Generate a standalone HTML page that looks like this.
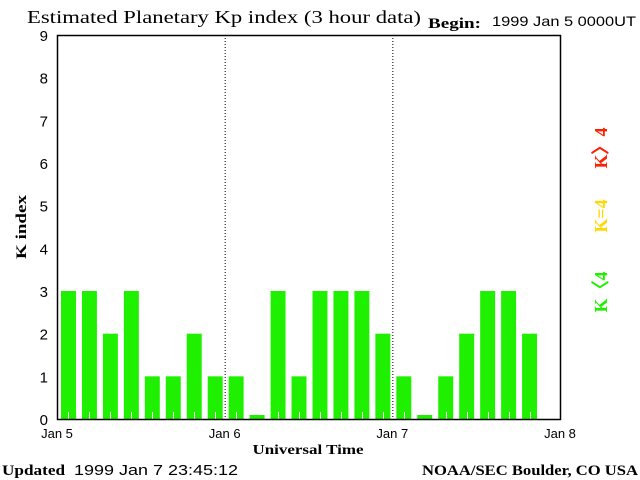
<!DOCTYPE html>
<html><head><meta charset="utf-8"><style>
body{margin:0;background:#fff;}
svg{display:block;}
.serif{font-family:"Liberation Serif",serif;font-weight:bold;}
.sans{font-family:"Liberation Sans",sans-serif;}
</style></head><body>
<svg id="c" width="640" height="480" xmlns="http://www.w3.org/2000/svg">
<rect width="640" height="480" fill="#fff"/>
<text x="27" y="23" font-family="Liberation Serif, serif" font-size="18" textLength="394" lengthAdjust="spacingAndGlyphs">Estimated Planetary Kp index (3 hour data)</text>
<text x="428" y="28" class="serif" font-size="15" textLength="53" lengthAdjust="spacingAndGlyphs">Begin:</text>
<text x="492" y="26" class="sans" font-size="14" textLength="144" lengthAdjust="spacingAndGlyphs">1999 Jan 5 0000UT</text>
<g id="bars"></g>
<g id="axes"></g>
<text x="26" y="227" class="serif" font-size="15" transform="rotate(-90 26 227)" text-anchor="middle" textLength="64" lengthAdjust="spacingAndGlyphs">K index</text>
<text x="308" y="454" class="serif" font-size="14" text-anchor="middle" textLength="111" lengthAdjust="spacingAndGlyphs">Universal Time</text>
<text x="2" y="475" class="serif" font-size="15" textLength="63" lengthAdjust="spacingAndGlyphs">Updated</text>
<text x="74" y="475" class="sans" font-size="15" textLength="164" lengthAdjust="spacingAndGlyphs">1999 Jan  7 23:45:12</text>
<text x="422" y="475" class="serif" font-size="15" textLength="216" lengthAdjust="spacingAndGlyphs">NOAA/SEC Boulder, CO USA</text>
<text x="607" y="148" class="serif" font-size="18" fill="#ff2000" transform="rotate(-90 607 148)" text-anchor="middle">K〉4</text>
<text x="607" y="216" class="serif" font-size="18" fill="#ffd800" transform="rotate(-90 607 216)" text-anchor="middle">K=4</text>
<text x="607" y="292" class="serif" font-size="18" fill="#1ef000" transform="rotate(-90 607 292)" text-anchor="middle">K〈4</text>
</svg>
<script>
const kValues=[3,3,2,3,1,1,2,1, 1,0,3,1,3,3,3,2, 1,0,1,2,3,3,2];
const yTicks=[0,1,2,3,4,5,6,7,8,9];
const dayLabels=["Jan 5","Jan 6","Jan 7","Jan 8"];
const NS="http://www.w3.org/2000/svg";
const L=57,R=560,T=35,B=419;
const x=h=>L+(R-L)*h/72;
const y=v=>B-(B-T)*v/9;
function mk(tag,a,parent){const e=document.createElementNS(NS,tag);for(const k in a)e.setAttribute(k,a[k]);parent.appendChild(e);return e;}
const bars=document.getElementById('bars'),axes=document.getElementById('axes');
kValues.forEach((v,i)=>{
  const x0=x(i*3)+4,x1=x(i*3+3)-2;
  const top=v===0?B-4:y(v);
  const col=v>4?'#ff2000':(v===4?'#ffd800':'#1ef000');
  const r=mk('rect',{x:x0,y:top,width:x1-x0,height:B-top,fill:col},bars);
  
  
  if(v>0){
    const tx=Math.round(x(i*3+1.5))+1.5;
    mk('line',{x1:tx,x2:tx,y1:B,y2:B-7,stroke:'#fff','stroke-width':1},bars);
  }
});
[24,48].forEach(h=>{
  const g=mk('line',{x1:x(h)+0.5,x2:x(h)+0.5,y1:T,y2:B,stroke:'#000','stroke-width':1,'stroke-dasharray':'1,2'},axes);
  
  
});
mk('rect',{x:L+0.5,y:T+0.5,width:R-L,height:B-T,fill:'none',stroke:'#000','stroke-width':1.5},axes);
yTicks.forEach(v=>{
  const t=mk('text',{x:48,y:y(v)+6,'text-anchor':'end','font-size':15,'font-family':'Liberation Sans, sans-serif'},axes);
  t.textContent=v;
  
  
});
dayLabels.forEach((d,i)=>{
  const t=mk('text',{x:x(i*24),y:438,'text-anchor':'middle','font-size':13,'font-family':'Liberation Sans, sans-serif'},axes);
  t.textContent=d;
  
  
});
</script>
</body></html>
